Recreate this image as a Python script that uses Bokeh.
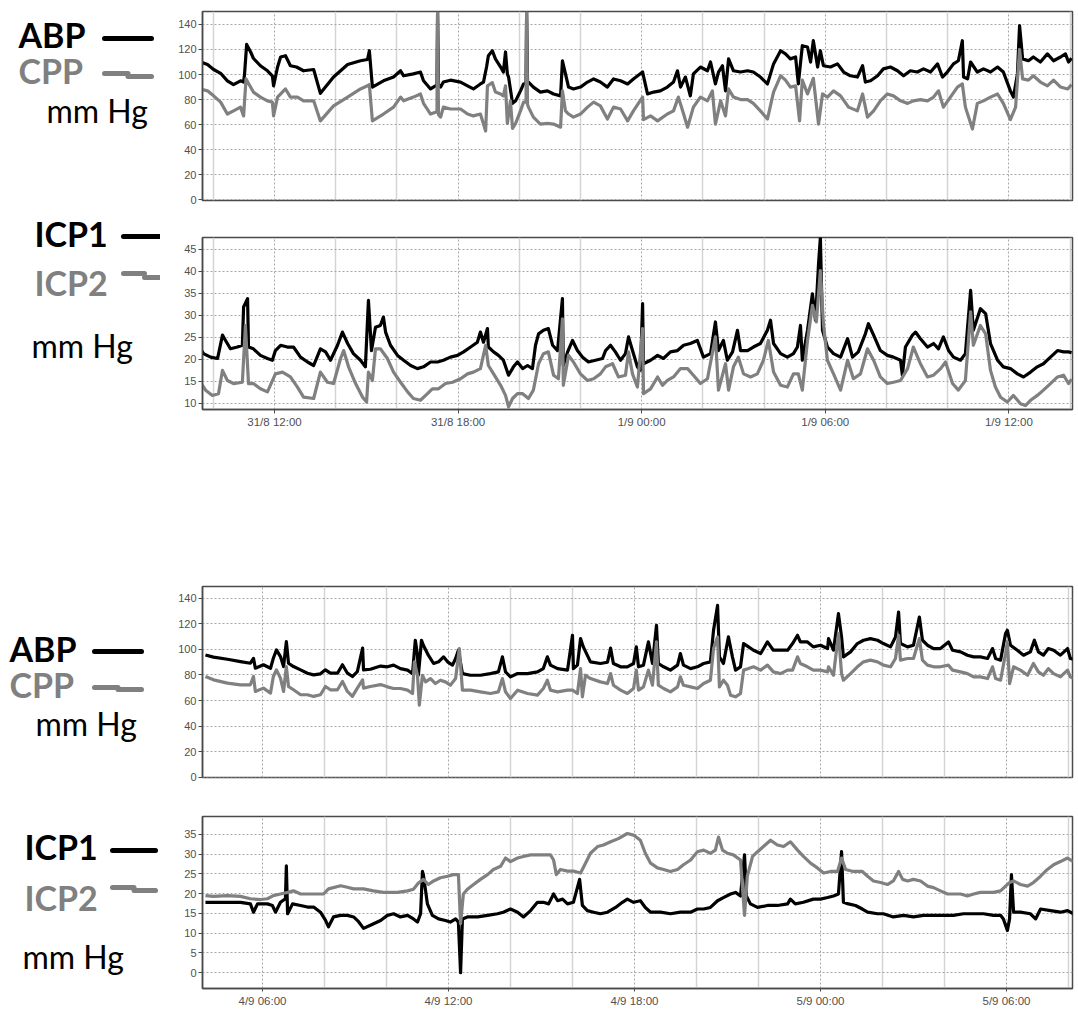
from bokeh.plotting import figure
from bokeh.models import Range1d, LinearAxis, FixedTicker, Grid
from bokeh.layouts import column, row
from bokeh.embed import file_html
from bokeh.resources import INLINE
from bokeh.core.properties import value

# ---------------- DATA ----------------
# Episode A: hours since 31/8 00:00
A_TICK_HOURS = [12, 18, 24, 30, 36]
A_TICK_LABELS = ["31/8 12:00", "31/8 18:00", "1/9 00:00", "1/9 06:00", "1/9 12:00"]
A_MINOR_HOURS = [10, 14, 16, 20, 22, 26, 28, 32, 34, 38]

# Episode B: hours since 4/9 00:00
B_TICK_HOURS = [6, 12, 18, 24, 30]
B_TICK_LABELS = ["4/9 06:00", "4/9 12:00", "4/9 18:00", "5/9 00:00", "5/9 06:00"]
B_MINOR_HOURS = [4, 8, 10, 14, 16, 20, 22, 26, 28, 32]

PRESSURE_TICKS = [0, 20, 40, 60, 80, 100, 120, 140]
ICP_A_TICKS = [10, 15, 20, 25, 30, 35, 40, 45]
ICP_B_TICKS = [0, 5, 10, 15, 20, 25, 30, 35]

A_ABP_T = [9.58, 9.81, 10.01, 10.24, 10.46, 10.66, 10.89, 10.99, 11.02, 11.09, 11.22, 11.31, 11.54, 11.77, 11.93,
           11.97, 12.10, 12.20, 12.36, 12.52, 12.72, 12.95, 13.28, 13.50, 13.93, 14.39, 14.81, 15.04, 15.10, 15.20,
           15.56, 15.89, 16.12, 16.22, 16.54, 16.77, 16.87, 17.10, 17.26, 17.31, 17.33, 17.36, 17.43, 17.52, 17.75,
           18.08, 18.31, 18.50, 18.73, 18.83, 18.93, 18.99, 19.12, 19.22, 19.39, 19.48, 19.55, 19.61, 19.65, 19.78,
           19.88, 20.04, 20.14, 20.22, 20.24, 20.27, 20.30, 20.46, 20.69, 20.92, 21.12, 21.35, 21.41, 21.51, 21.61,
           21.77, 22.00, 22.23, 22.43, 22.65, 22.88, 23.08, 23.31, 23.54, 23.73, 24.03, 24.19, 24.39, 24.61, 24.84,
           25.04, 25.17, 25.27, 25.43, 25.59, 25.69, 25.92, 26.15, 26.25, 26.41, 26.51, 26.64, 26.74, 26.84, 27.00,
           27.23, 27.46, 27.65, 27.88, 28.11, 28.31, 28.54, 28.70, 28.86, 29.03, 29.12, 29.25, 29.42, 29.52, 29.61,
           29.75, 29.84, 29.94, 30.17, 30.40, 30.60, 30.82, 31.05, 31.22, 31.31, 31.48, 31.71, 31.90, 32.13, 32.36,
           32.56, 32.78, 33.01, 33.21, 33.44, 33.67, 33.83, 33.99, 34.19, 34.35, 34.48, 34.52, 34.65, 34.75, 34.97,
           35.17, 35.40, 35.63, 35.82, 36.05, 36.15, 36.28, 36.35, 36.45, 36.64, 36.80, 37.03, 37.26, 37.46, 37.69,
           37.85, 37.95, 38.05]
A_ABP = [110, 108, 104, 101, 95, 92, 95, 94, 100, 124, 118, 113, 107, 103, 99,
         91, 106, 114, 115, 107, 106, 103, 104, 85, 98, 108, 111, 112, 119, 90,
         95, 98, 103, 99, 100.5, 102, 95, 88.5, 91, 91, 150, 92, 90, 94, 95.5,
         94, 91, 88.5, 92.5, 94, 106, 115, 119, 112.5, 106, 102, 118, 100.5, 98, 77,
         79, 87, 92.5, 93, 150, 94, 94, 90, 86, 87, 84.5, 83, 111, 100.5, 90,
         88.5, 90, 94, 96.5, 94, 90, 96.5, 95, 92.5, 96.5, 102, 84.5, 86, 87, 90,
         94, 103, 90, 98, 83, 100.5, 106, 103, 110, 92.5, 102, 107, 87, 112.5, 103,
         102, 103, 102, 98, 92.5, 108.5, 119, 116.5, 112.5, 114, 92.5, 123, 122, 110, 127,
         106, 119, 107, 106, 108.5, 102, 99, 98, 107, 94, 95, 99, 104.5, 106, 103,
         99, 103, 102, 104.5, 102, 108.5, 98, 102, 108.5, 111, 127, 98, 96.5, 110, 102,
         104.5, 102, 106, 102, 87, 82, 100.5, 139, 112.5, 111, 114, 110, 116.5, 111, 114,
         116.5, 110, 113]

A_CPP_T = [9.58, 9.81, 10.01, 10.24, 10.46, 10.66, 10.89, 10.99, 11.07, 11.31, 11.54, 11.77, 11.93, 11.97, 12.10,
           12.36, 12.52, 12.75, 12.95, 13.28, 13.50, 13.93, 14.39, 14.81, 15.04, 15.10, 15.20, 15.56, 15.89, 16.12,
           16.22, 16.54, 16.77, 16.87, 17.10, 17.26, 17.31, 17.33, 17.36, 17.43, 17.52, 17.75, 18.08, 18.31, 18.50,
           18.73, 18.90, 18.96, 19.12, 19.22, 19.39, 19.48, 19.55, 19.61, 19.71, 19.78, 19.88, 20.04, 20.14, 20.22,
           20.24, 20.27, 20.30, 20.46, 20.69, 20.92, 21.12, 21.35, 21.41, 21.51, 21.61, 21.77, 22.00, 22.23, 22.43,
           22.65, 22.88, 23.08, 23.31, 23.54, 23.73, 24.03, 24.06, 24.29, 24.52, 24.84, 25.04, 25.20, 25.37, 25.50,
           25.69, 25.92, 26.15, 26.31, 26.41, 26.58, 26.74, 26.84, 27.00, 27.23, 27.46, 27.65, 27.88, 28.11, 28.31,
           28.54, 28.70, 28.86, 29.03, 29.16, 29.25, 29.42, 29.61, 29.78, 29.91, 30.07, 30.27, 30.50, 30.76, 31.05,
           31.22, 31.38, 31.58, 31.80, 32.03, 32.23, 32.46, 32.69, 32.88, 33.11, 33.34, 33.54, 33.70, 33.86, 34.09,
           34.32, 34.48, 34.58, 34.81, 34.97, 35.17, 35.40, 35.63, 35.82, 36.05, 36.22, 36.35, 36.45, 36.64, 36.80,
           37.03, 37.26, 37.46, 37.69, 37.92, 38.05]
A_CPP = [88.5, 87, 83, 78, 68.5, 71, 74, 67, 96.5, 86, 82, 79, 78, 67, 82,
         88.5, 82, 82, 79, 79, 63, 75, 82, 88.5, 91, 92, 63, 68.5, 74, 82,
         79, 82, 84.5, 77, 68.5, 70, 70, 150, 68, 66, 74, 72.5, 72.5, 68.5, 67,
         68.5, 55, 91, 93.5, 86, 84.5, 83, 91, 61, 79, 57, 61, 71, 78, 78,
         150, 76, 74, 66, 60.5, 61, 60.5, 58, 87, 71, 68.5, 66, 68.5, 74, 78,
         75, 64.5, 74, 72.5, 63, 71, 82, 64, 67, 63, 68.5, 71, 82, 68.5, 58,
         74, 82, 79, 87, 60.5, 79, 67, 88.5, 82, 80, 80, 77, 71, 64.5, 86,
         99, 95.5, 90, 91, 63, 95.5, 84.5, 97, 60.5, 84.5, 82, 87, 83, 74, 71,
         84.5, 66, 71, 79, 84.5, 83, 79, 77, 79, 80, 79, 82, 87, 74, 82,
         90, 92.5, 74, 56.5, 77, 79, 82, 84.5, 77, 64, 74, 120, 96.5, 95.5, 99,
         94, 91, 95.5, 90, 88.5, 92]

A_ICP1_T = [9.58, 9.68, 9.91, 10.14, 10.30, 10.40, 10.56, 10.79, 10.95, 10.99, 11.12, 11.15, 11.31, 11.54, 11.77,
            11.93, 12.03, 12.20, 12.42, 12.62, 12.85, 13.08, 13.28, 13.50, 13.67, 13.83, 14.06, 14.22, 14.39, 14.58,
            14.81, 14.97, 15.07, 15.17, 15.30, 15.46, 15.56, 15.63, 15.79, 16.02, 16.22, 16.45, 16.67, 16.87, 17.10,
            17.33, 17.52, 17.75, 17.98, 18.18, 18.41, 18.63, 18.73, 18.83, 18.96, 18.99, 19.16, 19.32, 19.48, 19.65,
            19.81, 19.94, 20.11, 20.27, 20.43, 20.53, 20.63, 20.79, 20.95, 21.09, 21.25, 21.41, 21.44, 21.58, 21.74,
            21.90, 22.07, 22.26, 22.49, 22.72, 22.82, 22.98, 23.14, 23.31, 23.47, 23.57, 23.70, 23.86, 23.96, 24.03,
            24.06, 24.29, 24.52, 24.71, 24.94, 25.17, 25.37, 25.59, 25.82, 26.02, 26.25, 26.41, 26.51, 26.67, 26.80,
            26.97, 27.13, 27.23, 27.46, 27.65, 27.88, 28.11, 28.21, 28.31, 28.54, 28.76, 28.96, 29.09, 29.19, 29.25,
            29.42, 29.58, 29.68, 29.78, 29.84, 29.91, 30.07, 30.27, 30.50, 30.73, 30.89, 31.08, 31.31, 31.41, 31.58,
            31.80, 32.03, 32.23, 32.46, 32.52, 32.62, 32.85, 32.95, 33.11, 33.34, 33.54, 33.70, 33.86, 34.03, 34.19,
            34.42, 34.58, 34.75, 34.84, 35.07, 35.24, 35.40, 35.63, 35.82, 36.05, 36.28, 36.48, 36.71, 36.93, 37.13,
            37.36, 37.59, 37.79, 37.95, 38.05]
A_ICP1 = [22.4, 21.3, 20.5, 20.2, 25.5, 24.3, 22.4, 22.8, 23.2, 31.9, 33.8, 22.8, 22.4, 20.9, 20.2,
          19.8, 22, 23.2, 22.8, 22.8, 20.5, 19.4, 18.6, 22.4, 21.7, 19.8, 23.2, 26.2, 23.6, 21.3,
          19.8, 18.3, 33.4, 22, 27.3, 27.7, 29.6, 26.2, 23.2, 20.9, 19.8, 18.6, 17.9, 18.3, 19.4,
          19.4, 19.8, 20.5, 20.9, 21.7, 22.8, 23.9, 26.2, 23.9, 27, 22.8, 21.7, 20.9, 19.8, 16.4,
          18.3, 19.4, 17.9, 18.6, 17.9, 23.2, 25.8, 26.6, 27, 23.2, 22, 33.8, 18.6, 21.7, 24.3,
          22, 20.5, 19.4, 19.8, 20.2, 22, 23.2, 21.7, 19.8, 21.3, 25.1, 22, 18.3, 17.5, 32.7,
          19, 19.8, 20.9, 20.2, 21.7, 22, 23.2, 23.6, 24.3, 20.5, 21.3, 28.5, 22, 24.3, 19.8,
          21.7, 26.6, 22, 22, 22.8, 23.6, 26.6, 28.9, 23.6, 21.3, 20.5, 21.3, 22.8, 27.7, 19.8,
          26.6, 34.9, 28.9, 41.7, 47.7, 26.6, 22.8, 21.3, 20.5, 24.7, 20.5, 21.7, 25.8, 28.1, 25.5,
          22, 20.9, 20.5, 19.8, 16.4, 22.8, 25.5, 26.2, 24.7, 22.8, 23.6, 22.4, 25.1, 22, 20.5,
          19.8, 21.3, 35.7, 26.6, 31.5, 30.4, 23.6, 19.8, 18.3, 17.9, 16.7, 16, 17.1, 18.3, 19,
          20.5, 22, 21.7, 21.7, 21.5]

A_ICP2_T = [9.58, 9.75, 9.97, 10.17, 10.30, 10.46, 10.66, 10.95, 11.05, 11.15, 11.31, 11.54, 11.77, 12.03, 12.26,
            12.52, 12.75, 12.95, 13.28, 13.50, 13.73, 13.93, 14.16, 14.26, 14.42, 14.65, 14.88, 15.01, 15.07, 15.20,
            15.30, 15.46, 15.69, 15.89, 16.12, 16.35, 16.54, 16.77, 17.00, 17.16, 17.36, 17.59, 17.82, 18.08, 18.31,
            18.50, 18.73, 18.90, 18.99, 19.16, 19.39, 19.55, 19.65, 19.78, 19.94, 20.11, 20.30, 20.46, 20.63, 20.79,
            20.95, 21.12, 21.28, 21.41, 21.44, 21.61, 21.77, 22.00, 22.23, 22.43, 22.65, 22.82, 23.05, 23.24, 23.47,
            23.57, 23.70, 23.86, 24.03, 24.06, 24.29, 24.52, 24.68, 24.84, 25.04, 25.27, 25.50, 25.69, 25.92, 26.15,
            26.41, 26.51, 26.74, 26.84, 27.00, 27.16, 27.33, 27.56, 27.78, 27.98, 28.14, 28.31, 28.54, 28.76, 28.96,
            29.12, 29.25, 29.42, 29.58, 29.71, 29.84, 29.94, 30.07, 30.27, 30.50, 30.73, 30.92, 31.15, 31.38, 31.58,
            31.80, 32.03, 32.23, 32.46, 32.69, 32.88, 33.11, 33.34, 33.54, 33.77, 33.93, 34.16, 34.35, 34.58, 34.75,
            34.84, 35.07, 35.24, 35.40, 35.56, 35.73, 35.95, 36.15, 36.38, 36.54, 36.71, 36.93, 37.13, 37.36, 37.59,
            37.79, 37.95, 38.05]
A_ICP2 = [14.8, 13, 11.8, 12.2, 17.5, 15.2, 14.5, 14.8, 27.7, 14.5, 14.5, 13.3, 12.6, 16.7, 17.1,
          16, 13.7, 11.4, 11.1, 17.1, 14.8, 14.5, 20.2, 22, 18.3, 14.5, 11.4, 10.3, 17.1, 15.2,
          22.4, 22.4, 20.2, 17.1, 14.8, 12.6, 11.1, 10.7, 12.2, 13.3, 13.3, 14.5, 14.8, 15.6, 16.7,
          17.1, 17.9, 23.2, 18.6, 16.7, 14.1, 11.8, 9.2, 11.1, 12.2, 12.2, 11.1, 13, 19, 21.3,
          21.7, 16.4, 15.6, 29.2, 14.1, 20.9, 19.4, 16.7, 15.2, 15.6, 16.7, 18.3, 19, 16, 16.4,
          21.7, 16.7, 13.7, 27, 12.2, 13.3, 16, 14.1, 15.2, 16, 17.9, 17.9, 16.4, 14.5, 15.6,
          25.1, 13, 19, 13, 18.3, 20.5, 16.7, 16, 16.7, 19.8, 24.3, 17.1, 14.1, 13.7, 16.7,
          16.7, 13, 24.3, 32.3, 28.5, 40.2, 28.1, 19.8, 16.7, 13, 19.8, 15.6, 16.7, 22.4, 19.8,
          16, 14.5, 14.8, 15.2, 17.9, 22.8, 19, 16, 16.4, 17.9, 19.4, 14.5, 13, 15.2, 30.8,
          23.2, 27.7, 25.8, 17.5, 13.7, 11.4, 10.3, 11.8, 9.9, 9.5, 10.7, 11.8, 13, 14.5, 16,
          16.4, 14.5, 15.5]

B_ABP_T = [4.16, 4.42, 4.87, 5.29, 5.61, 5.71, 5.77, 6.03, 6.26, 6.35, 6.45, 6.58, 6.68, 6.77, 6.84,
           7.00, 7.23, 7.45, 7.65, 7.87, 8.03, 8.19, 8.42, 8.58, 8.74, 8.90, 9.06, 9.23, 9.26, 9.48,
           9.81, 10.03, 10.23, 10.45, 10.68, 10.84, 10.93, 11.00, 11.03, 11.13, 11.19, 11.35, 11.52, 11.68, 11.84,
           11.97, 12.13, 12.23, 12.32, 12.45, 12.71, 13.03, 13.35, 13.61, 13.74, 13.84, 14.00, 14.23, 14.55, 14.87,
           15.06, 15.19, 15.29, 15.52, 15.84, 16.00, 16.03, 16.16, 16.26, 16.35, 16.58, 16.90, 17.13, 17.23, 17.32,
           17.55, 17.77, 17.97, 18.06, 18.13, 18.29, 18.45, 18.58, 18.71, 18.77, 18.94, 19.16, 19.39, 19.48, 19.58,
           19.81, 20.03, 20.23, 20.45, 20.55, 20.68, 20.74, 20.87, 21.03, 21.16, 21.26, 21.42, 21.52, 21.68, 21.84,
           22.07, 22.29, 22.48, 22.71, 22.94, 23.10, 23.26, 23.35, 23.58, 23.77, 24.00, 24.23, 24.26, 24.42, 24.58,
           24.68, 24.74, 24.97, 25.19, 25.39, 25.61, 25.84, 26.03, 26.26, 26.42, 26.52, 26.58, 26.81, 27.00, 27.19,
           27.29, 27.45, 27.65, 27.87, 28.13, 28.26, 28.52, 28.74, 28.94, 29.16, 29.39, 29.55, 29.65, 29.81, 29.97,
           30.03, 30.13, 30.35, 30.55, 30.77, 30.90, 31.03, 31.19, 31.35, 31.52, 31.74, 31.97, 32.06, 32.29]
B_ABP = [95.7, 94, 92.3, 90.5, 89.2, 93, 85.3, 88, 85.3, 93.1, 99.6, 94.4, 86.6, 106.1, 89.2,
         86.6, 84, 81.4, 80.1, 80.9, 84, 81.4, 81.4, 88, 81.4, 78.8, 82.7, 101, 84, 84.5,
         87, 86.4, 87.7, 85, 83.8, 81.1, 107.2, 95.5, 79.8, 107.2, 103.3, 95.5, 89, 90.3, 94.2,
         90.3, 87.7, 92.9, 99.4, 81.1, 79.8, 79.8, 81.1, 82.4, 94.2, 82.4, 78.5, 81.1, 81.1, 82.4,
         85, 94.2, 87.7, 85, 83.8, 111.1, 85, 87.7, 108.5, 102, 90.3, 89, 90, 101, 89,
         86.4, 86.4, 89, 102, 86.4, 87.7, 105.9, 89, 118.9, 89, 86.4, 83.8, 87.7, 96.8, 87.7,
         85, 86.4, 89, 90.3, 115, 134.5, 94.2, 89, 109.8, 94.2, 83.8, 86.4, 104.6, 102, 99.4,
         96.8, 105.9, 99.4, 99.4, 99.4, 104.6, 111.1, 105.9, 105.9, 102, 103.3, 100.7, 108.5, 99.4, 128,
         109.8, 94.2, 98.1, 104.6, 107.2, 108.5, 107.2, 104.6, 102, 109.8, 129.3, 104.6, 102, 103.3, 125.4,
         107.2, 103.3, 100.7, 100.7, 105.9, 99.4, 98.1, 95.5, 94.2, 94.2, 92.9, 100.7, 92.9, 91.6, 112.4,
         115, 103.3, 99.4, 95.5, 98.1, 107.2, 98.1, 95.5, 100.7, 99.4, 95.5, 100.7, 92.9, 91.6]

B_CPP_T = [4.16, 4.42, 4.87, 5.29, 5.61, 5.71, 5.77, 6.03, 6.26, 6.35, 6.45, 6.58, 6.68, 6.77, 6.84,
           7.00, 7.23, 7.45, 7.65, 7.87, 8.03, 8.19, 8.42, 8.58, 8.74, 8.90, 9.06, 9.23, 9.26, 9.48,
           9.81, 10.03, 10.23, 10.45, 10.68, 10.84, 10.90, 11.00, 11.06, 11.16, 11.26, 11.42, 11.58, 11.74, 11.90,
           12.06, 12.23, 12.35, 12.45, 12.71, 13.03, 13.35, 13.61, 13.74, 13.84, 14.00, 14.23, 14.55, 14.87, 15.06,
           15.19, 15.29, 15.52, 15.84, 16.00, 16.16, 16.26, 16.32, 16.42, 16.58, 16.90, 17.13, 17.23, 17.32, 17.55,
           17.77, 17.97, 18.06, 18.13, 18.29, 18.45, 18.58, 18.71, 18.77, 18.94, 19.16, 19.39, 19.48, 19.58, 19.81,
           20.03, 20.23, 20.45, 20.55, 20.68, 20.74, 20.87, 21.00, 21.10, 21.26, 21.42, 21.52, 21.68, 21.84, 22.07,
           22.29, 22.48, 22.71, 22.94, 23.10, 23.26, 23.35, 23.58, 23.77, 24.00, 24.23, 24.26, 24.42, 24.58, 24.68,
           24.74, 24.97, 25.19, 25.39, 25.61, 25.84, 26.03, 26.26, 26.42, 26.52, 26.58, 26.81, 27.00, 27.19, 27.29,
           27.45, 27.65, 27.87, 28.13, 28.26, 28.52, 28.74, 28.94, 29.16, 29.39, 29.55, 29.65, 29.81, 29.97, 30.03,
           30.10, 30.23, 30.45, 30.68, 30.87, 31.03, 31.19, 31.35, 31.52, 31.74, 31.97, 32.06, 32.29]
B_CPP = [78.8, 76.2, 73.6, 72.3, 72.3, 78.8, 67.1, 69.7, 65.8, 78.8, 84, 77.5, 67.1, 86.6, 71,
         68.4, 64.5, 64.5, 63.2, 64.5, 71, 68.4, 68.4, 74.9, 67.1, 63.2, 69.7, 76.2, 69.7, 71,
         72.5, 70.7, 69.4, 69.4, 68.1, 65.5, 90.3, 79.8, 56.4, 79.8, 74.6, 77.2, 73.3, 75.9, 74.6,
         72, 77.2, 100.7, 68.1, 68.1, 66.8, 65.5, 66.8, 77.2, 66.8, 61.6, 68.1, 65.5, 64.2, 69.4,
         75.9, 68.1, 66.8, 68.1, 68.1, 65.5, 85, 62.9, 79.8, 77.2, 74.6, 73.3, 81.1, 72, 68.1,
         65.5, 69.4, 83.8, 68.1, 70.7, 83.8, 72, 105.9, 72, 69.4, 66.8, 70.7, 78.5, 72, 70.7,
         69.4, 73.3, 75.9, 100.7, 109.8, 70.7, 75.9, 72, 64.2, 62.9, 65.5, 83.8, 85, 86.4, 83.8,
         87.7, 82.4, 81.1, 83.8, 83.8, 94.2, 89, 86.4, 83.8, 83.8, 82.4, 86.4, 79.8, 112.4, 81.1,
         75.9, 81.1, 86.4, 90.3, 91.6, 90.3, 87.7, 86.4, 92.9, 111.1, 91.6, 92.9, 92.9, 108.5, 91.6,
         87.7, 86.4, 86.4, 87.7, 83.8, 82.4, 81.1, 78.5, 78.5, 77.2, 86.4, 77.2, 75.9, 96.8, 105.9,
         73.3, 86.4, 83.8, 79.8, 89, 82.4, 79.8, 85, 81.1, 78.5, 83.8, 78.5, 75.9]

B_ICP1_T = [4.16, 4.42, 4.87, 5.29, 5.61, 5.71, 5.84, 6.16, 6.32, 6.42, 6.58, 6.74, 6.77, 6.81, 6.97,
            7.23, 7.45, 7.65, 7.87, 8.03, 8.13, 8.29, 8.52, 8.74, 8.94, 9.10, 9.26, 9.48, 9.81, 10.03,
            10.23, 10.45, 10.68, 10.87, 11.00, 11.10, 11.16, 11.19, 11.32, 11.48, 11.68, 11.90, 12.06, 12.23, 12.32,
            12.39, 12.45, 12.61, 12.94, 13.26, 13.58, 13.77, 14.00, 14.23, 14.42, 14.65, 14.87, 15.06, 15.23, 15.39,
            15.52, 15.68, 15.84, 16.03, 16.23, 16.32, 16.48, 16.68, 16.90, 17.13, 17.39, 17.61, 17.77, 17.97, 18.19,
            18.35, 18.52, 18.84, 19.16, 19.48, 19.81, 20.03, 20.23, 20.45, 20.68, 20.87, 21.10, 21.26, 21.42, 21.55,
            21.61, 21.74, 21.97, 22.29, 22.61, 22.94, 23.03, 23.19, 23.45, 23.77, 24.00, 24.23, 24.42, 24.58, 24.68,
            24.74, 24.90, 25.13, 25.35, 25.52, 25.84, 26.03, 26.35, 26.68, 27.00, 27.32, 27.65, 27.97, 28.29, 28.61,
            28.94, 29.26, 29.58, 29.81, 29.90, 30.03, 30.10, 30.16, 30.23, 30.45, 30.77, 30.94, 31.10, 31.42, 31.74,
            31.97, 32.16, 32.32]
B_ICP1 = [17.8, 17.8, 17.8, 17.8, 17.4, 15.3, 17.4, 17.4, 17, 15.3, 17.8, 18.7, 27, 14.9, 17.4,
          17, 16.6, 16.6, 15.3, 13.3, 11.6, 14.1, 14.5, 14.5, 14.1, 12.9, 11.2, 12, 13.2, 14.5,
          14.9, 14.1, 14.5, 13.6, 12.8, 14.9, 25.6, 24.8, 17.4, 14.5, 13.6, 13.2, 12.8, 13.6, 12.8,
          0, 13.6, 14.1, 14.1, 14.5, 14.9, 15.3, 16.1, 15.3, 14.1, 15.7, 17.8, 17.8, 17.4, 19.9,
          18.2, 18.6, 17.4, 17.8, 23.6, 17, 15.7, 15.3, 14.9, 15.3, 16.5, 17.8, 18.6, 17.8, 18.2,
          16.5, 15.3, 15.3, 14.9, 15.3, 15.3, 16.1, 16.1, 16.5, 18.2, 19, 19.9, 20.3, 19.4, 29.8,
          19.4, 17.4, 16.5, 17, 17, 17.4, 18.6, 17.4, 17.8, 18.6, 18.6, 19, 19.4, 19.9, 30.6,
          17.8, 17.4, 17, 16.1, 15.3, 14.9, 14.9, 14.1, 14.5, 14.1, 14.5, 14.5, 14.5, 14.5, 14.9,
          14.9, 14.9, 14.5, 14.5, 13.6, 10.7, 13.6, 24.8, 15.3, 15.3, 14.9, 13.6, 16.1, 15.7, 15.3,
          15.7, 14.9, 15.3]

B_ICP2_T = [4.16, 4.42, 4.87, 5.29, 5.61, 5.94, 6.16, 6.35, 6.58, 6.81, 7.00, 7.23, 7.65, 7.97, 8.13,
            8.52, 8.74, 8.94, 9.26, 9.58, 9.90, 10.03, 10.35, 10.68, 10.87, 11.03, 11.19, 11.35, 11.52, 11.74,
            11.97, 12.16, 12.32, 12.39, 12.48, 12.61, 12.81, 13.03, 13.26, 13.45, 13.68, 13.84, 14.00, 14.23, 14.42,
            14.65, 14.97, 15.29, 15.39, 15.48, 15.61, 15.84, 16.03, 16.26, 16.42, 16.58, 16.81, 17.00, 17.23, 17.48,
            17.77, 17.97, 18.19, 18.35, 18.52, 18.74, 18.94, 19.16, 19.39, 19.58, 19.81, 20.03, 20.23, 20.45, 20.61,
            20.71, 20.84, 21.00, 21.19, 21.42, 21.55, 21.64, 21.81, 21.97, 22.16, 22.39, 22.61, 22.81, 23.03, 23.26,
            23.45, 23.68, 23.90, 24.10, 24.32, 24.55, 24.68, 24.81, 25.06, 25.35, 25.52, 25.71, 25.94, 26.16, 26.35,
            26.52, 26.65, 26.81, 27.00, 27.23, 27.45, 27.65, 27.87, 28.10, 28.29, 28.52, 28.74, 28.94, 29.16, 29.39,
            29.58, 29.81, 29.97, 30.10, 30.23, 30.45, 30.68, 30.87, 31.10, 31.32, 31.52, 31.74, 31.97, 32.16, 32.32]
B_ICP2 = [19.5, 19.3, 19.5, 19.3, 18.7, 18.5, 18.7, 19.5, 19.9, 20.3, 20.7, 19.9, 19.9, 19.9, 21.2,
          22, 21.6, 21.2, 21.2, 20.7, 20.3, 20.3, 20.3, 20.7, 21.1, 22.7, 23.6, 22.3, 23.2, 24,
          24.4, 24.8, 24.8, 12.4, 19.9, 21.1, 22.3, 23.6, 24.8, 26.1, 26.9, 29, 28.1, 29, 29.4,
          29.8, 29.8, 29.8, 28.5, 24.8, 26.1, 25.7, 25.7, 25.2, 27.7, 30.2, 31.9, 32.3, 33.1, 33.9,
          35.2, 34.8, 33.5, 30.2, 27.7, 26.5, 26.1, 25.6, 26.1, 27.3, 28.5, 30.6, 31, 30.2, 31,
          34.3, 31, 30.2, 29.8, 28.5, 14.5, 24.4, 29.4, 30.6, 31.9, 33.5, 32.3, 31.9, 33.1, 31,
          29.4, 27.7, 26.5, 25.2, 25.6, 25.6, 29, 26.1, 25.6, 25.6, 24.4, 23.2, 22.8, 22.3, 23.2,
          25.6, 23.6, 23.2, 23.6, 23.2, 21.9, 21.5, 20.7, 19.9, 19.9, 19.9, 19.4, 19.9, 20.3, 20.3,
          20.3, 20.7, 21.9, 22.8, 23.2, 22.3, 21.9, 22.8, 24.4, 26.1, 27.3, 28.1, 29, 28.1, 27.3]

# Legend key texts (one entry per panel)
KEY_NAMES = [("ABP", "CPP"), ("ICP1", "ICP2"), ("ABP", "CPP"), ("ICP1", "ICP2")]
UNIT = "mm Hg"

# ---------------- STYLE ----------------
BLACK = "#000000"
GRAY = "#808080"
FRAME = "#4a4a4a"
TICK_FONT = "Liberation Sans"
LABEL_FONT = "Lato"
PAGE_H = 1009
KEY_W = 160
CHART_W = 1078 - KEY_W


def style_axis(ax, size, standoff=2, tick_out=4):
    ax.major_label_text_font = TICK_FONT
    ax.major_label_text_font_size = size
    ax.major_label_text_color = "#505050"
    ax.axis_line_color = FRAME
    ax.axis_line_width = 1.5
    ax.major_tick_line_color = FRAME
    ax.major_tick_in = 0
    ax.major_tick_out = tick_out
    ax.minor_tick_line_color = None
    ax.major_label_standoff = standoff


def chart(height, xr, yr, borders, yticks, xticks, xminor, xlabels=None, x_standoff=2, x_tick_out=4):
    left, right, top, bottom = borders
    p = figure(width=CHART_W, height=height, x_range=Range1d(*xr), y_range=Range1d(*yr),
               x_axis_location=None, y_axis_location=None, toolbar_location=None,
               output_backend="svg", min_border_left=left, min_border_right=right,
               min_border_top=top, min_border_bottom=bottom)
    p.center = [r for r in p.center if not isinstance(r, Grid)]
    p.outline_line_color = FRAME
    p.outline_line_width = 1.5
    p.background_fill_color = "white"
    p.border_fill_color = "white"
    yt = FixedTicker(ticks=yticks)
    yax = LinearAxis(ticker=yt)
    style_axis(yax, "11px")
    p.add_layout(yax, "left")
    xt = FixedTicker(ticks=xticks, minor_ticks=xminor)
    if xlabels is not None:
        xax = LinearAxis(ticker=xt)
        style_axis(xax, "11.5px", standoff=x_standoff, tick_out=x_tick_out)
        xax.major_label_overrides = dict(zip(xticks, xlabels))
        p.add_layout(xax, "below")
    p.add_layout(Grid(dimension=0, ticker=xt, grid_line_color="#a6a6a6", grid_line_dash="2 2",
                      grid_line_width=1, minor_grid_line_color="#d4d4d4", minor_grid_line_width=1.5))
    p.add_layout(Grid(dimension=1, ticker=yt, grid_line_color="#a6a6a6", grid_line_dash="2 2",
                      grid_line_width=1))
    return p


def draw(p, t_black, v_black, t_gray, v_gray):
    p.line(t_black, v_black, line_color=BLACK, line_width=3.2, line_join="round")
    p.line(t_gray, v_gray, line_color=GRAY, line_width=3.2, line_join="round")


# ---------------- PANELS ----------------
A_XR = (9.647, 38.08)
B_XR = (4.065, 32.13)

f1 = chart(215, A_XR, (-0.5, 150.3), (42, 6, 11, 15), PRESSURE_TICKS, A_TICK_HOURS, A_MINOR_HOURS)
draw(f1, A_ABP_T, A_ABP, A_CPP_T, A_CPP)

f2 = chart(215, A_XR, (8.6, 47.7), (42, 6, 22, 21), ICP_A_TICKS, A_TICK_HOURS, A_MINOR_HOURS,
           xlabels=A_TICK_LABELS)
draw(f2, A_ICP1_T, A_ICP1, A_ICP2_T, A_ICP2)

f3 = chart(360, B_XR, (-0.3, 149.3), (42, 6, 156, 13), PRESSURE_TICKS, B_TICK_HOURS, B_MINOR_HOURS)
draw(f3, B_ABP_T, B_ABP, B_CPP_T, B_CPP)

f4 = chart(219, B_XR, (-4, 39.5), (42, 6, 26, 18), ICP_B_TICKS, B_TICK_HOURS, B_MINOR_HOURS,
           xlabels=B_TICK_LABELS, x_standoff=2, x_tick_out=3)
draw(f4, B_ICP1_T, B_ICP1, B_ICP2_T, B_ICP2)

# ---------------- KEY (left column, page pixel space) ----------------
key = figure(width=KEY_W, height=PAGE_H, x_range=Range1d(0, KEY_W), y_range=Range1d(PAGE_H, 0),
             x_axis_location=None, y_axis_location=None, toolbar_location=None,
             output_backend="svg", min_border=0)
key.min_border_left = key.min_border_right = key.min_border_top = key.min_border_bottom = 0
key.center = [r for r in key.center if not isinstance(r, Grid)]
key.outline_line_color = None
key.background_fill_color = "white"
key.border_fill_color = "white"

# (name x, name1 y-mid, name2 y-mid, unit x, unit y-mid, line x0, line x1, line1 y, line2 y-left, line2 y-right)
KEY_POS = [(18, 34, 70, 46, 110, 104, 151, 38, 73, 76),
           (34, 233, 282, 31, 345, 123, 165, 236, 273, 277),
           (9, 648, 684, 35, 723, 94, 141, 651, 687, 689),
           (24, 846, 897, 22, 956, 112, 155, 850, 887, 890)]

for (n1, n2), (nx, y1, y2, ux, uy, lx0, lx1, ly1, ly2a, ly2b) in zip(KEY_NAMES, KEY_POS):
    key.text(x=[nx], y=[y1], text=[n1], text_color=BLACK, text_font=value(LABEL_FONT),
             text_font_style="bold", text_font_size="34px", text_baseline="middle", text_align="left")
    key.text(x=[nx], y=[y2], text=[n2], text_color=GRAY, text_font=value(LABEL_FONT),
             text_font_style="bold", text_font_size="34px", text_baseline="middle", text_align="left")
    key.text(x=[ux], y=[uy], text=[UNIT], text_color=BLACK, text_font=value(LABEL_FONT),
             text_font_style="normal", text_font_size="32px", text_baseline="middle", text_align="left")
    lmid = (lx0 + lx1) / 2
    key.segment(x0=[lx0], y0=[ly1], x1=[lx1], y1=[ly1], line_color=BLACK, line_width=5, line_cap="round")
    key.segment(x0=[lx0, lmid], y0=[ly2a, ly2b], x1=[lmid, lx1], y1=[ly2a, ly2b],
                line_color=GRAY, line_width=5, line_cap="round")

layout = row(key, column(f1, f2, f3, f4))

open("out.html", "w").write(file_html(layout, INLINE))
